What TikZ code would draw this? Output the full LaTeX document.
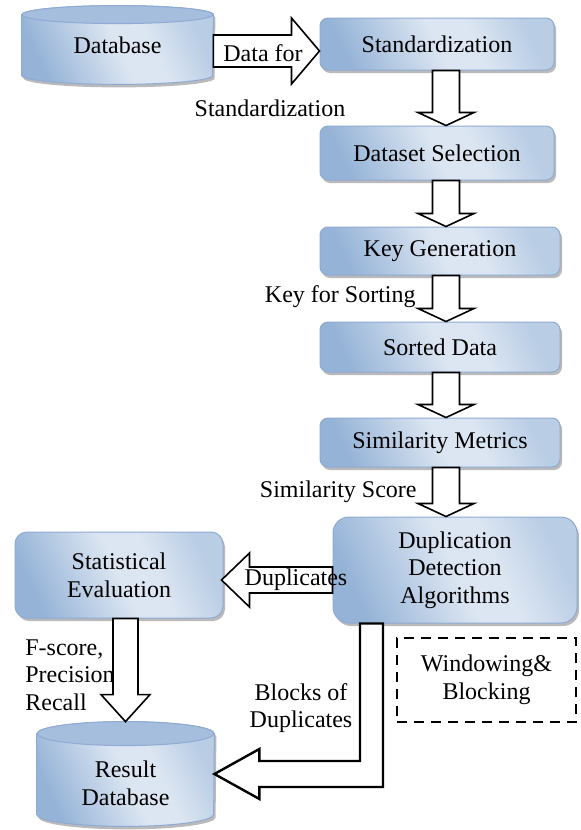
\documentclass[tikz,border=0pt]{standalone}
\usepackage{fontspec}
\setmainfont{Liberation Serif}
\usetikzlibrary{calc,shadows}

\definecolor{boxdark}{HTML}{95B3D7}
\definecolor{boxlight}{HTML}{DCE6F2}
\definecolor{boxmid}{HTML}{B9CDE5}
\definecolor{boxline}{HTML}{8FAAD3}
\definecolor{cyltop}{HTML}{A5BEDD}
\pgfdeclarehorizontalshading{boxgrad}{100bp}{color(0bp)=(boxdark); color(25bp)=(boxdark); color(50bp)=(boxlight); color(60bp)=(boxlight); color(75bp)=(boxmid); color(100bp)=(boxmid)}

\begin{document}
\begin{tikzpicture}[x=0.5pt, y=-0.5pt,
  font=\fontsize{12}{13.8}\selectfont,
  bluebox/.style={draw=boxline, line width=0.5pt, rounded corners=4pt, shading=boxgrad, shading angle=25,
    drop shadow={shadow xshift=1pt, shadow yshift=-1.5pt, fill=black!45, opacity=.6}, inner sep=0pt, align=center},
  cylfill/.style={draw=boxline, line width=0.5pt, shading=boxgrad, shading angle=25,
    drop shadow={shadow xshift=1pt, shadow yshift=-1.5pt, fill=black!45, opacity=.6}},
  blockarrow/.style={draw=black, fill=white, line width=0.8pt, line join=miter},
  lbl/.style={inner sep=0pt, align=center}]

\useasboundingbox (0,0) rectangle (581,830);

% databases
\node[inner sep=0pt, minimum width=95.5pt, minimum height=39pt] (db) at (117.5,45) {};
\path[cylfill] ($(db.north west)+(0,9)$) -- ($(db.south west)+(0,-9)$) arc[start angle=180, end angle=0, x radius=95.5, y radius=9]
  -- ($(db.north east)+(0,9)$) arc[start angle=0, end angle=-180, x radius=95.5, y radius=9] -- cycle;
\path[fill=cyltop, draw=boxline, line width=0.5pt] ($(db.north)+(0,9)$) ellipse[x radius=95.5, y radius=9];
\node (dbtext) at (db) {Database};

\node[inner sep=0pt, minimum width=88.5pt, minimum height=52pt] (rdb) at (125.5,774) {};
\path[cylfill] ($(rdb.north west)+(0,12)$) -- ($(rdb.south west)+(0,-12)$) arc[start angle=180, end angle=0, x radius=88.5, y radius=12]
  -- ($(rdb.north east)+(0,12)$) arc[start angle=0, end angle=-180, x radius=88.5, y radius=12] -- cycle;
\path[fill=cyltop, draw=boxline, line width=0.5pt] ($(rdb.north)+(0,12)$) ellipse[x radius=88.5, y radius=12];
\node[align=center] (rdbtext) at (125.5,783) {Result\\Database};

% process boxes
\node[bluebox, minimum width=117pt, minimum height=26pt] (std) at (437,44) {Standardization};
\node[bluebox, minimum width=117pt, minimum height=27pt] (dsel) at (437,153) {Dataset Selection};
\node[bluebox, minimum width=120pt, minimum height=24pt] (keygen) at (440,251) {Key Generation};
\node[bluebox, minimum width=120pt, minimum height=25pt] (sorted) at (440,347) {Sorted Data};
\node[bluebox, minimum width=120pt, minimum height=24.5pt] (simm) at (440,442.5) {Similarity Metrics};
\node[bluebox, rounded corners=8pt, minimum width=122pt, minimum height=53pt] (dda) at (455,570) {Duplication\\Detection\\Algorithms};
\node[bluebox, rounded corners=6pt, minimum width=104pt, minimum height=43pt] (stat) at (119,575) {Statistical\\Evaluation};
\node[draw, dash pattern=on 5pt off 3.5pt, line width=1pt, minimum width=89.5pt, minimum height=42pt, align=center] (wb) at (486.5,680) {Windowing\&\\Blocking};

% block arrows
\coordinate (ax) at (446,0);
\foreach \a/\b in {std/dsel,dsel/keygen,keygen/sorted,sorted/simm,simm/dda}
  \draw[blockarrow] ($(ax |- \a.south)+(-13.5,0)$) -- ($(ax |- \b.north)+(-13.5,-13)$) -- ++(-14.5,0) -- (ax |- \b.north)
    -- ++(28,-13) -- ++(-14.5,0) -- ($(ax |- \a.south)+(13.5,0)$) -- cycle;

\coordinate (dfy) at (0,51);
\draw[blockarrow] ($(db.east |- dfy)+(0,-16)$) -- ($(std.west |- dfy)+(-28,-16)$) -- ++(0,-17) -- (std.west |- dfy)
  -- ++(-28,33) -- ++(0,-17) -- ($(db.east |- dfy)+(0,16)$) -- cycle;

\coordinate (dupy) at (0,580);
\draw[blockarrow] ($(dda.west |- dupy)+(0,-13)$) -- ($(stat.east |- dupy)+(26,-13)$) -- ++(0,-14) -- ($(stat.east |- dupy)+(-2,0)$)
  -- ++(28,27) -- ++(0,-14) -- ($(dda.west |- dupy)+(0,13)$) -- cycle;

\coordinate (fsx) at (125.5,0);
\draw[blockarrow] ($(fsx |- stat.south)+(-12.5,0)$) -- ($(fsx |- rdb.north)+(-12.5,-27)$) -- ++(-12,0) -- (fsx |- rdb.north)
  -- ++(24.5,-27) -- ++(-12,0) -- ($(fsx |- stat.south)+(12.5,0)$) -- cycle;

\coordinate (bdx) at (371.5,0);
\draw[blockarrow, line width=1.2pt] ($(bdx |- dda.south)+(-11.5,0)$) -- ($(bdx |- rdb.east)+(-11.5,-13)$) -- ($(rdb.east)+(45,-13)$)
  -- ++(0,-12) -- (rdb.east) -- ++(45,25) -- ++(0,-12) -- ($(bdx |- rdb.east)+(11.5,13)$) -- ($(bdx |- dda.south)+(11.5,0)$) -- cycle;

% labels
\node[lbl] (dfl) at (263,53) {Data for};
\node[lbl] (stdl) at (270,108) {Standardization};
\node[lbl, anchor=east] (kfs) at (416,297) {Key for Sorting};
\node[lbl, anchor=east] (sims) at (417,492) {Similarity Score};
\node[lbl] (dupl) at (296,580) {Duplicates};
\node[lbl, align=left, anchor=west] (fsl) at (25,675) {F-score,\\Precision\\Recall};
\node[lbl] (bdl) at (301,708) {Blocks of\\Duplicates};
\end{tikzpicture}
\end{document}
